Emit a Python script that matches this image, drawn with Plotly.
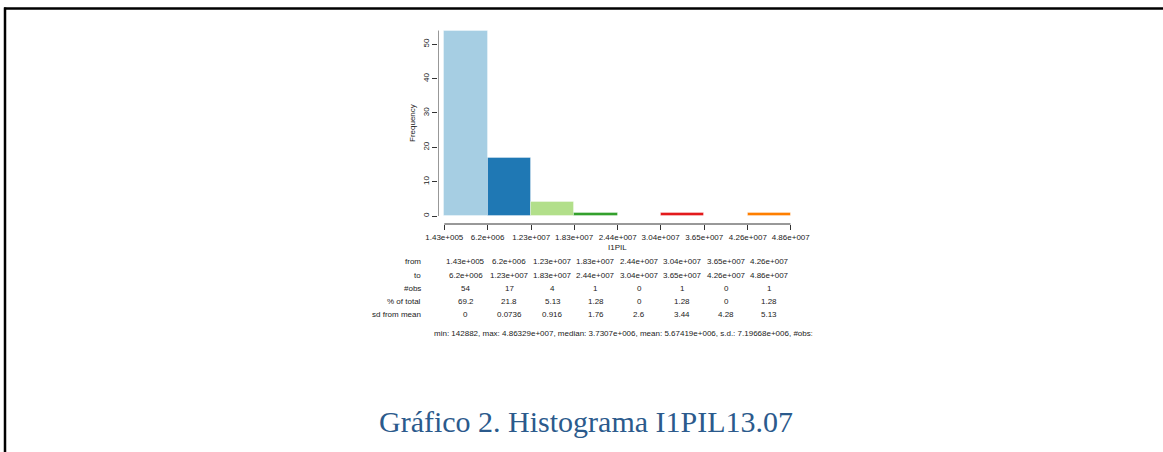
import numpy as np
import plotly.graph_objects as go

# Histogram of I1PIL: bin edges, counts and summary table
edges = [1.43e5, 6.2e6, 1.23e7, 1.83e7, 2.44e7, 3.04e7, 3.65e7, 4.26e7, 4.86e7]
edge_labels = ["1.43e+005", "6.2e+006", "1.23e+007", "1.83e+007", "2.44e+007",
               "3.04e+007", "3.65e+007", "4.26e+007", "4.86e+007"]
counts = [54, 17, 4, 1, 0, 1, 0, 1]
pct_total = ["69.2", "21.8", "5.13", "1.28", "0", "1.28", "0", "1.28"]
sd_from_mean = ["0", "0.0736", "0.916", "1.76", "2.6", "3.44", "4.28", "5.13"]
bar_colors = ["#A6CEE3", "#1F78B4", "#B2DF8A", "#33A02C",
              "#FB9A99", "#E31A1C", "#FDBF6F", "#FF7F00"]
summary = ("min: 142882, max: 4.86329e+007, median: 3.7307e+006, "
           "mean: 5.67419e+006, s.d.: 7.19668e+006, #obs: 78")
caption = "Gráfico 2. Histograma I1PIL13.07"

W, H = 1163, 452
e = np.array(edges)
centers = (e[:-1] + e[1:]) / 2
widths = np.diff(e)

# pixel layout of the plotting region
px_left, px_x0, px_x1 = 438.0, 444.3, 790.7
px_axis_y, px_zero, px_ten = 224.0, 216.0, 181.66
scale_x = (px_x1 - px_x0) / (e[-1] - e[0])
x_lo = e[0] - (px_x0 - px_left) / scale_x
scale_y = (px_zero - px_ten) / 10.0
y_lo = -(px_axis_y - px_zero) / scale_y
px_top = 30.0
y_hi = (px_zero - px_top) / scale_y

def py(p):
    return (H - p) / H

def px(p):
    return p / W

fig = go.Figure()
fig.add_trace(go.Bar(
    x=centers, y=counts, width=widths,
    marker=dict(color=bar_colors, line=dict(color="rgba(255,255,255,0.35)", width=1)),
    hoverinfo="skip",
))

font_small = dict(family="Liberation Sans, Arial, sans-serif", size=8, color="#222222")

fig.update_layout(
    width=W, height=H,
    margin=dict(l=0, r=0, t=0, b=0, pad=0, autoexpand=False),
    paper_bgcolor="white", plot_bgcolor="white",
    showlegend=False, bargap=0,
    xaxis=dict(
        domain=[px(px_left), px(px_x1)], range=[x_lo, e[-1]],
        tickvals=edges, ticktext=edge_labels, ticks="outside", ticklen=5,
        tickcolor="#333333", tickwidth=1, showgrid=False, zeroline=False,
        showline=False, tickfont=font_small, tickangle=0, automargin=False,
    ),
    yaxis=dict(
        domain=[py(px_axis_y), py(px_top)], range=[y_lo, y_hi],
        tickvals=[0, 10, 20, 30, 40, 50], ticks="outside", ticklen=5,
        tickcolor="#333333", tickwidth=1, showgrid=False, zeroline=False,
        showline=False, tickfont=font_small, tickangle=-90, automargin=False,
    ),
)

# axis lines
fig.add_shape(type="line", xref="x", yref="paper", x0=e[0], x1=e[-1],
              y0=py(px_axis_y), y1=py(px_axis_y), line=dict(color="#333333", width=1))
fig.add_shape(type="line", xref="x", yref="y", x0=x_lo, x1=x_lo,
              y0=0, y1=max(counts), line=dict(color="#333333", width=1))


def label(text, x, y, xref="paper", xanchor="center", **kw):
    fig.add_annotation(text=text, xref=xref, yref="paper", x=x, y=y,
                       xanchor=xanchor, yanchor="middle", showarrow=False,
                       **kw)


# axis titles
label("Frequency", px(412), py(123), textangle=-90, font=font_small)
label("I1PIL", (e[0] + e[-1]) / 2, py(247), xref="x", font=font_small)

# frequency table below the histogram
rows = [
    ("from", edge_labels[:-1], 261.7),
    ("to", edge_labels[1:], 275.5),
    ("#obs", [str(c) for c in counts], 288.0),
    ("% of total", pct_total, 301.0),
    ("sd from mean", sd_from_mean, 314.3),
]
for name, vals, ypx in rows:
    label(name, px(423), py(ypx), xanchor="right", font=font_small)
    for xc, v in zip(centers, vals):
        label(v, xc, py(ypx), xref="x", font=font_small)

label(summary, px(432), py(333), xanchor="left", font=font_small)
# the embedded chart image ends at its right edge
label(" ", px(812), py(333), xanchor="left", bgcolor="white",
      width=30, height=14, font=font_small)

# caption
label(caption, px(586), py(421),
      font=dict(family="Liberation Serif, DejaVu Serif, serif", size=30, color="#2B5A8C"))

# page frame
fig.add_shape(type="line", xref="paper", yref="paper", x0=px(4), x1=1.0,
              y0=py(8.5), y1=py(8.5), line=dict(color="black", width=2.5))
fig.add_shape(type="line", xref="paper", yref="paper", x0=px(5), x1=px(5),
              y0=py(7.5), y1=0.0, line=dict(color="black", width=2.5))

fig.write_html("out.html")
